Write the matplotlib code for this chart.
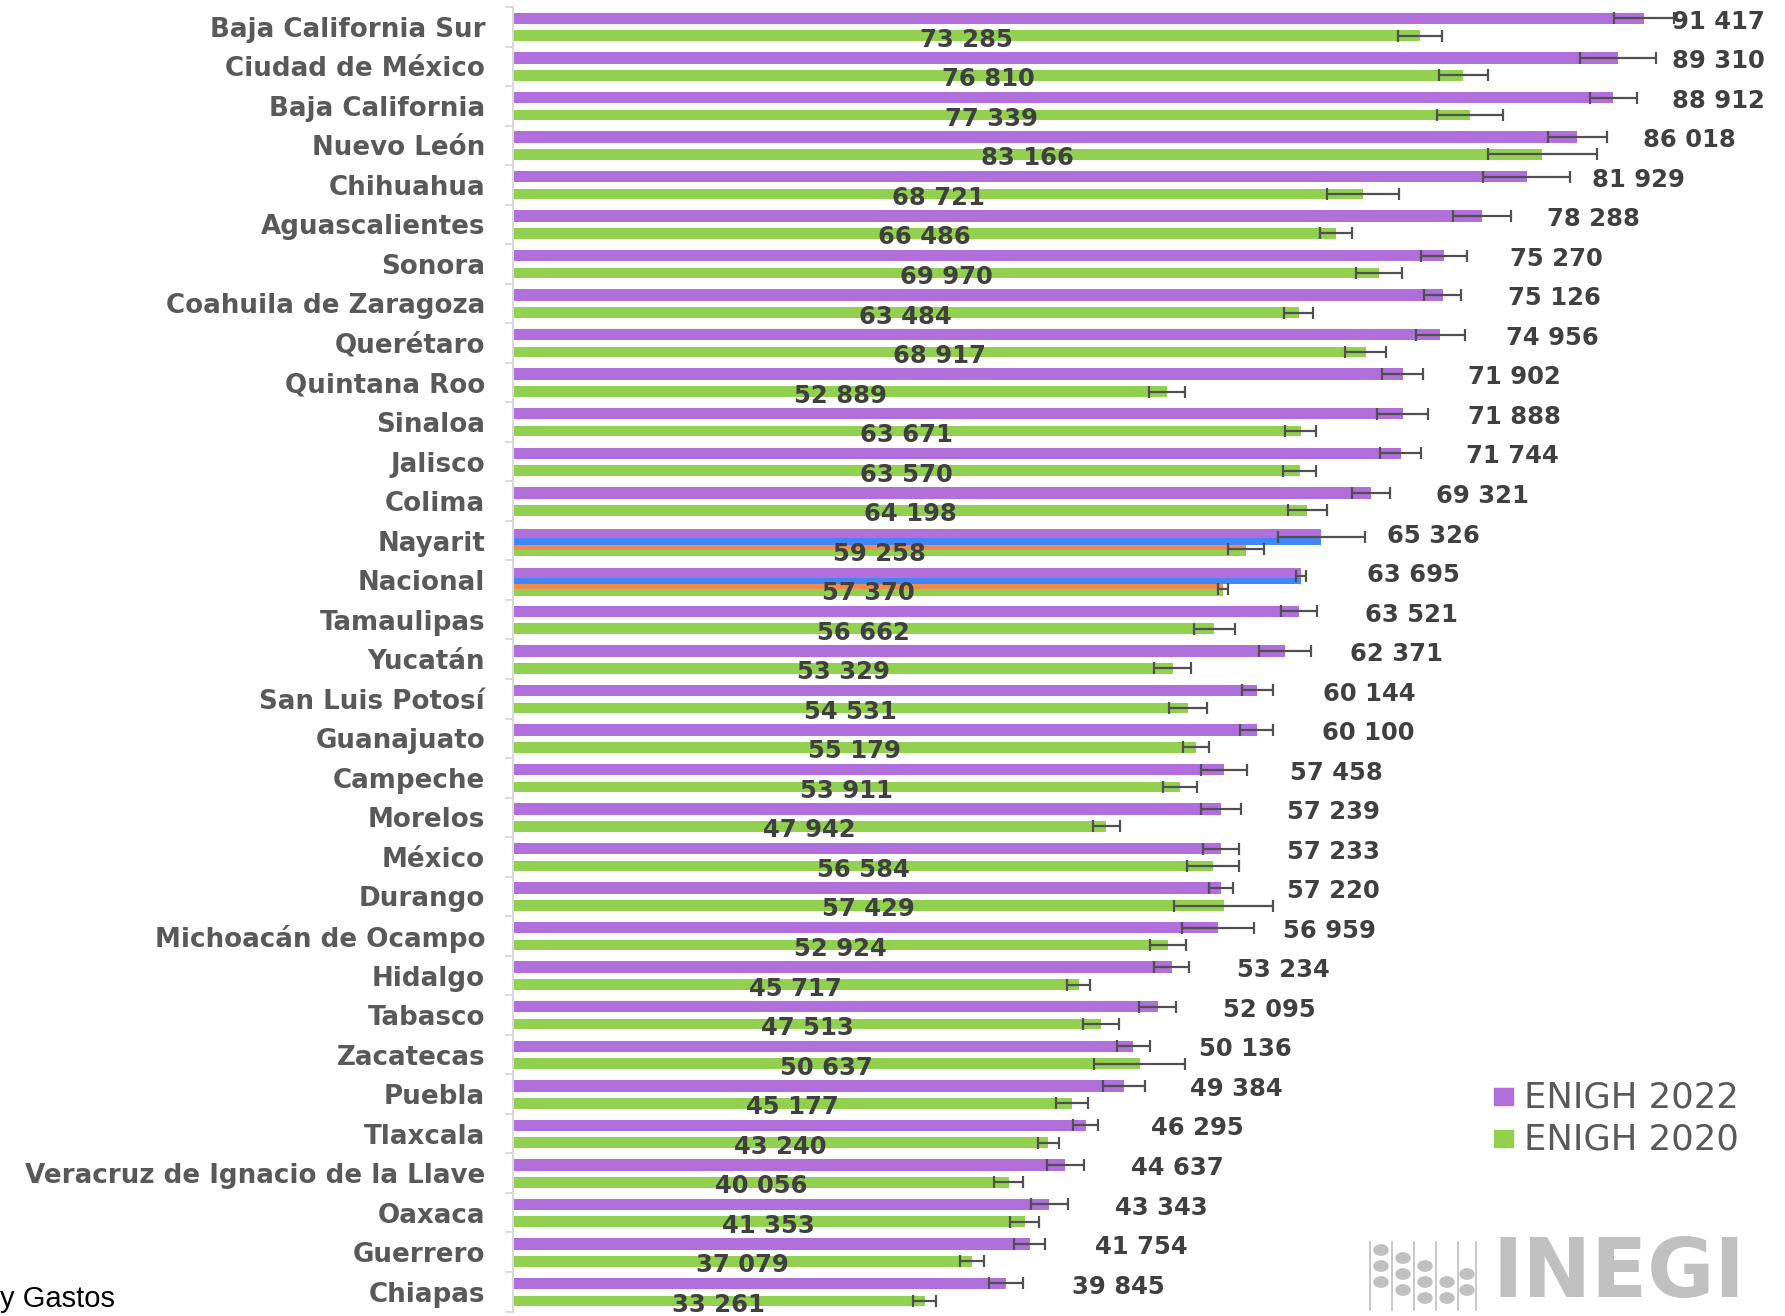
import matplotlib.pyplot as plt
import numpy as np

states = ["Baja California Sur", "Ciudad de México", "Baja California", "Nuevo León",
          "Chihuahua", "Aguascalientes", "Sonora", "Coahuila de Zaragoza", "Querétaro",
          "Quintana Roo", "Sinaloa", "Jalisco", "Colima", "Nayarit", "Nacional",
          "Tamaulipas", "Yucatán", "San Luis Potosí", "Guanajuato", "Campeche", "Morelos",
          "México", "Durango", "Michoacán de Ocampo", "Hidalgo", "Tabasco", "Zacatecas",
          "Puebla", "Tlaxcala", "Veracruz de Ignacio de la Llave", "Oaxaca", "Guerrero",
          "Chiapas"]

v2022 = [91417, 89310, 88912, 86018, 81929, 78288, 75270, 75126, 74956, 71902, 71888,
         71744, 69321, 65326, 63695, 63521, 62371, 60144, 60100, 57458, 57239, 57233,
         57220, 56959, 53234, 52095, 50136, 49384, 46295, 44637, 43343, 41754, 39845]
v2020 = [73285, 76810, 77339, 83166, 68721, 66486, 69970, 63484, 68917, 52889, 63671,
         63570, 64198, 59258, 57370, 56662, 53329, 54531, 55179, 53911, 47942, 56584,
         57429, 52924, 45717, 47513, 50637, 45177, 43240, 40056, 41353, 37079, 33261]

# error bar half widths (estimated)
e2022 = [2400, 3100, 1900, 2400, 3500, 2350, 1850, 1500, 2000, 1650, 2050, 1650, 1550,
         3500, 400, 1450, 2100, 1250, 1350, 1850, 1600, 1450, 1000, 2900, 1400, 1500,
         1350, 1700, 1000, 1500, 1500, 1250, 1350]
e2020 = [1800, 1950, 2700, 4400, 2900, 1300, 1850, 1200, 1650, 1450, 1250, 1350, 1600,
         1450, 400, 1650, 1500, 1550, 1050, 1400, 1100, 2100, 4000, 1450, 950, 1450,
         3700, 1300, 850, 1150, 1150, 950, 950]

highlight = ["Nayarit", "Nacional"]

purple = "#B06FDA"
green = "#92D050"
blue = "#4287F5"
orange = "#EE8C4E"
txt = "#404040"
lab = "#595959"

fig = plt.figure(figsize=(17.85, 13.16), dpi=100)
ax = fig.add_axes([0.2874, 0.0034, 0.7126, 0.9913])

y = np.arange(len(states))
normal = np.array([s not in highlight for s in states])
hl = ~normal
v22 = np.array(v2022)
v20 = np.array(v2020)
err22 = np.array(e2022)
err20 = np.array(e2020)
eb = dict(fmt="none", ecolor="#505050", elinewidth=1.6, capsize=4, capthick=1.6, zorder=3)

# regular rows
ax.barh(y[normal] - 0.21, v22[normal], height=0.29, color=purple, zorder=2)
ax.barh(y[normal] + 0.23, v20[normal], height=0.27, color=green, zorder=2)
ax.errorbar(v22[normal], y[normal] - 0.21, xerr=err22[normal], **eb)
ax.errorbar(v20[normal], y[normal] + 0.23, xerr=err20[normal], **eb)

# highlighted rows (Nayarit, Nacional)
ax.barh(y[hl] - 0.18, v22[hl], height=0.25, color=purple, zorder=2)
ax.barh(y[hl] + 0.02, v22[hl], height=0.16, color=blue, zorder=2)
ax.barh(y[hl] + 0.165, v20[hl], height=0.13, color=orange, zorder=2)
ax.barh(y[hl] + 0.31, v20[hl], height=0.16, color=green, zorder=2)
ax.errorbar(v22[hl], y[hl] - 0.1, xerr=err22[hl], **eb)
ax.errorbar(v20[hl], y[hl] + 0.22, xerr=err20[hl], **eb)


def fmt(v):
    return f"{v:,}".replace(",", " ")


for i in range(len(states)):
    ax.text(min(v2022[i] + 5300, 93700), y[i] - 0.13, fmt(v2022[i]), ha="left",
            va="center", fontsize=17.5, fontweight="bold", color=txt,
            family="DejaVu Sans", zorder=4)
    ax.text(v2020[i] / 2, y[i] + 0.33, fmt(v2020[i]), ha="center", va="center",
            fontsize=17.5, fontweight="bold", color=txt, family="DejaVu Sans", zorder=4)

ax.set_xlim(0, 102800)
ax.set_ylim(len(states) - 0.5, -0.5)
ax.set_yticks(y)
ax.set_yticklabels(states, fontsize=18.8, fontweight="bold", color=lab,
                   family="DejaVu Sans")
ax.set_yticks(np.arange(len(states) + 1) - 0.5, minor=True)
ax.tick_params(axis="y", which="major", length=0, pad=20)
ax.tick_params(axis="y", which="minor", length=6, color="#d9d9d9", width=1.3)
ax.set_xticks([])
for side in ["top", "right", "bottom"]:
    ax.spines[side].set_visible(False)
ax.spines["left"].set_color("#d9d9d9")
ax.spines["left"].set_linewidth(1.5)

# legend
fig.patches.append(plt.Rectangle((1494 / 1785, 1 - 1105 / 1316), 19 / 1785, 17 / 1316,
                                 transform=fig.transFigure, color=purple))
fig.patches.append(plt.Rectangle((1494 / 1785, 1 - 1147 / 1316), 19 / 1785, 17 / 1316,
                                 transform=fig.transFigure, color=green))
fig.text(1524 / 1785, 1 - 1097 / 1316, "ENIGH 2022", fontsize=25.5, color=lab,
         va="center", family="DejaVu Sans")
fig.text(1524 / 1785, 1 - 1140 / 1316, "ENIGH 2020", fontsize=25.5, color=lab,
         va="center", family="DejaVu Sans")

# INEGI logo (simplified)
logo = "#c0c0c0"
fig.text(1492 / 1785, 1 - 1274 / 1316, "INEGI", fontsize=59, fontweight="heavy",
         color=logo, va="center", family="DejaVu Sans")
for lx in [1370, 1392, 1414, 1436, 1458, 1476]:
    fig.add_artist(plt.Line2D([lx / 1785, lx / 1785], [1 - 1310 / 1316, 1 - 1242 / 1316],
                              transform=fig.transFigure, color=logo, lw=1.2))
dots = [(1381, 1250), (1381, 1266), (1381, 1282), (1403, 1258), (1403, 1274), (1403, 1290),
        (1425, 1266), (1425, 1282), (1425, 1298), (1447, 1282), (1447, 1298), (1467, 1274),
        (1467, 1290)]
for dx, dy in dots:
    fig.patches.append(plt.Circle((dx / 1785, 1 - dy / 1316), 7 / 1785,
                                  transform=fig.transFigure, color=logo))

fig.text(0.0, 1 - 1299 / 1316, "y Gastos", fontsize=21, color="black", va="center",
         family="Liberation Sans")

fig.savefig("out.png", dpi=100)
